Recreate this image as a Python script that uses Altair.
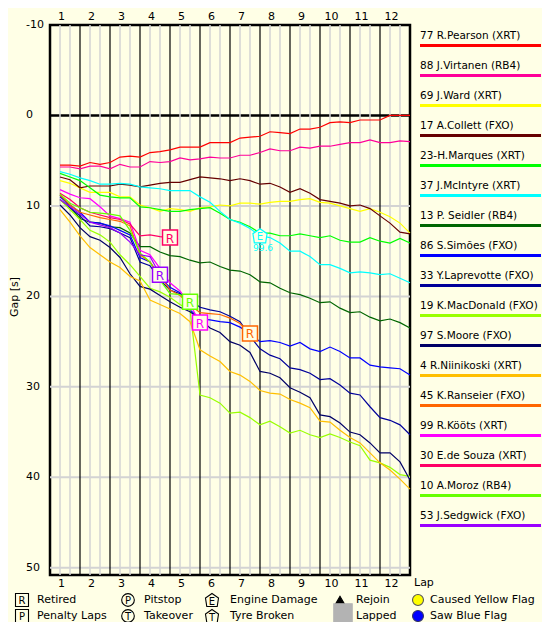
import altair as alt
import pandas as pd

BG = "#FFFFE6"
FONT = "DejaVu Sans"

drivers = ["77 R.Pearson (XRT)", "88 J.Virtanen (RB4)", "69 J.Ward (XRT)", "17 A.Collett (FXO)",
           "23-H.Marques (XRT)", "37 J.McIntyre (XRT)", "13 P. Seidler (RB4)", "86 S.Simões (FXO)",
           "33 Y.Laprevotte (FXO)", "19 K.MacDonald (FXO)", "97 S.Moore (FXO)", "4 R.Niinikoski (XRT)",
           "45 K.Ranseier (FXO)", "99 R.Kööts (XRT)", "30 E.de Souza (XRT)", "10 A.Moroz (RB4)",
           "53 J.Sedgwick (FXO)"]
colors = ["#FF0000", "#FF0099", "#FFFF00", "#660000", "#00FF00", "#00FFFF", "#006600", "#0000FF",
          "#000099", "#99FF00", "#000066", "#FFBF00", "#FF6600", "#FF00FF", "#FF0066", "#66FF00",
          "#9900FF"]

# gap to leader [s], one value per sector (3 sectors per lap), starting at sector 1
pearson = [5.5, 5.5, 5.6, 5.2, 5.4, 5.2, 4.6, 4.5, 4.6, 4.1, 4.0, 3.8, 3.5, 3.5, 3.5, 3.0, 3.0, 3.0,
           2.5, 2.4, 2.3, 1.8, 1.9, 2.0, 1.5, 1.5, 1.3, 0.8, 0.7, 0.8, 0.5, 0.5, 0.5, 0.0, 0.0, 0.0]
virtanen = [5.7, 5.7, 5.9, 5.6, 5.6, 5.9, 5.4, 5.7, 5.7, 5.1, 5.2, 5.1, 4.7, 4.9, 4.8, 4.6, 4.7, 4.7,
            4.4, 4.4, 4.1, 3.7, 3.9, 3.9, 3.5, 3.6, 3.4, 3.4, 3.2, 3.0, 3.0, 2.7, 3.0, 3.0, 2.8, 2.9]
ward = [7.2, 7.5, 8.0, 8.5, 8.5, 8.5, 9.0, 9.0, 9.9, 10.2, 10.6, 10.3, 10.4, 10.6, 10.2, 10.1, 9.9, 10.0,
        9.7, 9.7, 9.8, 9.6, 9.5, 9.5, 9.3, 9.2, 9.6, 9.7, 10.0, 10.3, 10.6, 10.3, 10.7, 11.2, 11.9, 13.0]
collett = [6.8, 7.1, 8.0, 7.8, 7.8, 7.8, 7.6, 7.7, 7.9, 7.7, 7.5, 7.4, 7.4, 7.1, 6.8, 6.9, 7.0, 7.2,
           7.0, 7.2, 7.6, 7.5, 7.9, 8.5, 8.1, 8.6, 9.3, 9.5, 9.7, 10.0, 9.9, 10.3, 11.1, 11.9, 12.9, 13.1]
marques = [6.4, 6.8, 7.2, 8.0, 8.8, 9.0, 9.1, 9.1, 10.1, 10.2, 10.4, 10.6, 10.6, 10.4, 10.3, 10.2, 10.8, 11.5,
           11.8, 12.3, 13.0, 13.0, 13.3, 13.3, 13.1, 13.3, 13.5, 13.3, 13.8, 14.0, 14.0, 13.5, 13.9, 14.1, 13.6, 14.1]
mcintyre = [6.2, 6.5, 6.9, 7.2, 7.6, 7.6, 7.5, 7.6, 7.9, 8.0, 8.1, 8.3, 8.3, 8.3, 9.0, 9.6, 10.6, 11.5,
            11.9, 12.5, 13.3, 13.5, 14.1, 15.0, 15.0, 15.6, 16.5, 16.5, 16.9, 17.4, 17.3, 17.4, 17.6, 17.5, 18.0, 18.5]
seidler = [8.8, 10.1, 11.4, 11.8, 11.9, 12.3, 12.4, 13.0, 14.5, 14.5, 15.1, 15.5, 15.6, 16.0, 16.3, 16.2, 16.7, 17.1,
           17.2, 17.6, 18.4, 18.5, 19.1, 19.6, 19.8, 20.2, 20.7, 20.6, 21.3, 21.8, 21.7, 22.3, 22.7, 22.5, 22.9, 23.5]
simoes = [9.0, 9.9, 10.7, 11.8, 11.9, 12.2, 12.7, 13.2, 15.7, 16.2, 17.9, 19.0, 19.6, 21.5, 22.5, 22.6, 22.8, 22.9,
          23.4, 24.1, 25.0, 24.9, 25.1, 25.5, 25.1, 25.8, 26.1, 25.6, 26.1, 26.8, 26.8, 27.6, 27.8, 27.9, 28.0, 28.7]
laprevotte = [9.3, 10.2, 11.1, 12.2, 12.3, 12.5, 13.0, 13.5, 16.2, 16.6, 18.2, 19.3, 19.7, 20.4, 21.2, 21.5, 21.7, 22.2,
              22.8, 24.4, 25.8, 26.5, 26.9, 27.9, 28.1, 28.5, 29.2, 29.1, 29.8, 30.7, 30.9, 32.2, 33.4, 33.7, 34.2, 35.3]
macdonald = [9.3, 10.4, 11.5, 12.7, 13.2, 14.0, 15.4, 16.5, 17.8, 19.1, 19.5, 20.1, 20.9, 21.5, 30.9, 31.2, 31.8, 32.9,
             32.8, 33.4, 34.2, 33.8, 34.4, 35.1, 34.8, 35.3, 35.6, 35.2, 35.6, 36.1, 36.5, 38.1, 38.4, 38.9, 39.7, 39.9]
moore = [9.9, 11.0, 12.4, 13.4, 13.8, 14.6, 15.7, 17.5, 18.9, 19.2, 19.9, 20.6, 21.2, 21.7, 22.5, 23.5, 24.0, 25.0,
         25.4, 26.2, 28.3, 28.5, 29.0, 30.1, 30.6, 31.2, 33.1, 33.3, 34.0, 35.0, 35.3, 36.2, 37.3, 37.3, 38.3, 40.3]
niinikoski = [10.4, 11.8, 13.3, 14.6, 15.4, 16.2, 16.8, 17.8, 18.3, 20.4, 20.9, 21.4, 21.9, 22.8, 25.9, 26.6, 27.2, 28.3,
              28.7, 29.4, 30.4, 30.7, 30.8, 31.4, 31.8, 32.3, 33.8, 33.9, 34.8, 35.6, 36.2, 37.3, 38.4, 39.2, 40.2, 41.3]
ranseier = [8.8, 9.9, 10.7, 11.0, 11.3, 11.5, 11.7, 12.2, 15.4, 16.2, 17.7, 19.3, 19.9, 20.9, 21.8, 21.9, 22.0, 22.4,
            23.0, 24.1]
kootz = [8.2, 8.7, 9.1, 9.2, 10.1, 11.1, 11.4, 11.8, 14.9, 15.4, 16.9, 18.5, 19.4, 20.9, 22.9]
desouza = [8.6, 9.3, 10.2, 10.7, 11.0, 11.3, 11.5, 12.0, 13.3, 13.2, 13.4, 13.5]
moroz = [8.7, 9.7, 10.2, 10.7, 10.8, 10.9, 11.1, 12.7, 15.2, 16.2, 18.2, 19.7, 19.8, 20.6]
sedgwick = [9.3, 10.1, 10.9, 11.8, 12.1, 12.4, 13.0, 14.0, 15.4, 15.6, 17.6]

series = [pearson, virtanen, ward, collett, marques, mcintyre, seidler, simoes, laprevotte,
          macdonald, moore, niinikoski, ranseier, kootz, desouza, moroz, sedgwick]

laps = list(range(1, 13))
sectors_per_lap = 3
total_sectors = 36
gap_ticks = [-10, 0, 10, 20, 30, 40, 50]

# events: (driver, sector, symbol letter, note)
events = [("37 J.McIntyre (XRT)", 21, "E", "99.6")]

# ---------- tables ----------
rows = []
for name, col, vals in zip(drivers, colors, series):
    for i, v in enumerate(vals):
        rows.append({"driver": name, "color": col, "s": i + 1, "gap": v})
df = pd.DataFrame(rows)

ret = []
for name, col, vals in zip(drivers, colors, series):
    if len(vals) < total_sectors:
        ret.append({"driver": name, "color": col, "s": len(vals), "gap": vals[-1], "t": "R"})
ret_df = pd.DataFrame(ret)

ev = []
for name, s, letter, note in events:
    i = drivers.index(name)
    ev.append({"color": colors[i], "s": s, "gap": series[i][s - 1], "t": letter, "note": note})
ev_df = pd.DataFrame(ev)

xs = alt.Scale(domain=[0, total_sectors], nice=False, zero=False)
ys = alt.Scale(domain=[-10, 50.8], reverse=True, nice=False, zero=False)

sect = pd.DataFrame({"s": list(range(1, total_sectors))})
gray_s = sect[sect.s % sectors_per_lap != 0]
black_s = sect[sect.s % sectors_per_lap == 0]

hgrid = alt.Chart(pd.DataFrame({"g": gap_ticks[2:]})).mark_rule(color="#D3D3D3", strokeWidth=2).encode(
    y=alt.Y("g:Q", scale=ys, axis=None))
zero = alt.Chart(pd.DataFrame({"g": [0]})).mark_rule(color="black", strokeWidth=2.5).encode(
    y=alt.Y("g:Q", scale=ys, axis=None))
vgray = alt.Chart(gray_s).mark_rule(color="#D3D3D3", strokeWidth=1.5).encode(
    x=alt.X("s:Q", scale=xs, axis=None))
vblack = alt.Chart(black_s).mark_rule(color="black", strokeWidth=1.2).encode(
    x=alt.X("s:Q", scale=xs, axis=None))

lines = alt.Chart(df).mark_line(strokeWidth=1.2).encode(
    x=alt.X("s:Q", scale=xs, axis=None),
    y=alt.Y("gap:Q", scale=ys, axis=None),
    color=alt.Color("driver:N", scale=alt.Scale(domain=drivers, range=colors), legend=None),
    detail="driver:N",
)

ret_box = alt.Chart(ret_df).mark_point(shape="square", size=225, filled=True, fill=BG, opacity=1,
                                       strokeWidth=1.5).encode(
    x=alt.X("s:Q", scale=xs), y=alt.Y("gap:Q", scale=ys), stroke=alt.Stroke("color:N", scale=None))
ret_txt = alt.Chart(ret_df).mark_text(font=FONT, fontSize=12, baseline="middle", align="center", dy=1).encode(
    x=alt.X("s:Q", scale=xs), y=alt.Y("gap:Q", scale=ys), text="t:N", color=alt.Color("color:N", scale=None))

PENT = "M0,-1L1,-0.3L0.8,1L-0.8,1L-1,-0.3Z"
ev_sym = alt.Chart(ev_df).mark_point(shape=PENT, size=200, filled=True, fill=BG, opacity=1,
                                     strokeWidth=1.2).encode(
    x=alt.X("s:Q", scale=xs), y=alt.Y("gap:Q", scale=ys), stroke=alt.Stroke("color:N", scale=None))
ev_txt = alt.Chart(ev_df).mark_text(font=FONT, fontSize=10, baseline="middle", dy=1).encode(
    x=alt.X("s:Q", scale=xs), y=alt.Y("gap:Q", scale=ys), text="t:N", color=alt.Color("color:N", scale=None))
ev_note = alt.Chart(ev_df).mark_text(font=FONT, fontSize=9, baseline="middle", dy=12, dx=3).encode(
    x=alt.X("s:Q", scale=xs), y=alt.Y("gap:Q", scale=ys), text="note:N", color=alt.Color("color:N", scale=None))

# axis texts
lap_df = pd.DataFrame({"s": [sectors_per_lap * n - 2 for n in laps], "label": [str(n) for n in laps]})
top_lbl = alt.Chart(lap_df).mark_text(font=FONT, fontSize=11, baseline="middle", dx=1.5).encode(
    x=alt.X("s:Q", scale=xs), y=alt.value(-8), text="label:N")
bot_lbl = alt.Chart(lap_df).mark_text(font=FONT, fontSize=11, baseline="middle", dx=1.5).encode(
    x=alt.X("s:Q", scale=xs), y=alt.value(559), text="label:N")
lap_title = alt.Chart(pd.DataFrame({"t": ["Lap"]})).mark_text(font=FONT, fontSize=11, align="left",
                                                               baseline="middle").encode(
    x=alt.value(364), y=alt.value(558), text="t:N")
ytick_df = pd.DataFrame({"v": gap_ticks, "label": [str(v) for v in gap_ticks]})
y_lbl = alt.Chart(ytick_df).mark_text(font=FONT, fontSize=11, align="left", baseline="middle").encode(
    x=alt.value(-24), y=alt.Y("v:Q", scale=ys), text="label:N")
y_title = alt.Chart(pd.DataFrame({"t": ["Gap [s]"]})).mark_text(font=FONT, fontSize=11, angle=270,
                                                                 baseline="middle").encode(
    x=alt.value(-35), y=alt.value(272), text="t:N")

# right-hand driver legend
leg = pd.DataFrame({"name": drivers, "color": colors})
leg["ty"] = [11 + 30 * i for i in range(len(drivers))]
leg["ly"] = [20.5 + 30 * i for i in range(len(drivers))]
leg_txt = alt.Chart(leg).mark_text(font=FONT, fontSize=10.5, align="left", baseline="middle").encode(
    x=alt.value(370), y=alt.Y("ty:Q", scale=None), text="name:N")
leg_line = alt.Chart(leg).mark_rule(strokeWidth=3).encode(
    x=alt.value(370), x2=alt.value(491), y=alt.Y("ly:Q", scale=None), color=alt.Color("color:N", scale=None))

# bottom symbol legend
r1, r2 = 575, 591
sym = pd.DataFrame([
    {"px": -28, "py": r1, "shape": "square", "size": 169, "fill": BG, "stroke": "black"},
    {"px": 78, "py": r1, "shape": "circle", "size": 160, "fill": BG, "stroke": "black"},
    {"px": 162, "py": r1, "shape": PENT, "size": 170, "fill": BG, "stroke": "black"},
    {"px": 290, "py": r1, "shape": "triangle-up", "size": 75, "fill": "black", "stroke": "black"},
    {"px": 368, "py": r1, "shape": "circle", "size": 120, "fill": "#FFFF00", "stroke": "#555555"},
    {"px": -28, "py": r2, "shape": "square", "size": 169, "fill": BG, "stroke": "black"},
    {"px": 78, "py": r2, "shape": "circle", "size": 160, "fill": BG, "stroke": "black"},
    {"px": 162, "py": r2, "shape": PENT, "size": 170, "fill": BG, "stroke": "black"},
    {"px": 293, "py": 588, "shape": "square", "size": 340, "fill": "#B3B3B3", "stroke": "#B3B3B3"},
    {"px": 368, "py": r2, "shape": "circle", "size": 120, "fill": "#0000FF", "stroke": "#333366"},
])
sym_ch = alt.Chart(sym).mark_point(filled=True, opacity=1, strokeWidth=1.1).encode(
    x=alt.X("px:Q", scale=None), y=alt.Y("py:Q", scale=None),
    shape=alt.Shape("shape:N", scale=None), size=alt.Size("size:Q", scale=None),
    fill=alt.Fill("fill:N", scale=None), stroke=alt.Stroke("stroke:N", scale=None))
sym_letters = pd.DataFrame([
    {"px": -28, "py": r1 + 1, "t": "R"}, {"px": 78, "py": r1 + 1, "t": "P"}, {"px": 162, "py": r1 + 1.5, "t": "E"},
    {"px": -28, "py": r2 + 1, "t": "P"}, {"px": 78, "py": r2 + 1, "t": "T"}, {"px": 162, "py": r2 + 1.5, "t": "T"},
])
let_ch = alt.Chart(sym_letters).mark_text(font=FONT, fontSize=10, baseline="middle").encode(
    x=alt.X("px:Q", scale=None), y=alt.Y("py:Q", scale=None), text="t:N")
sym_labels = pd.DataFrame([
    {"px": -13, "py": r1, "t": "Retired"}, {"px": 94, "py": r1, "t": "Pitstop"},
    {"px": 180, "py": r1, "t": "Engine Damage"}, {"px": 306, "py": r1, "t": "Rejoin"},
    {"px": 380, "py": r1, "t": "Caused Yellow Flag"},
    {"px": -13, "py": r2, "t": "Penalty Laps"}, {"px": 94, "py": r2, "t": "Takeover"},
    {"px": 180, "py": r2, "t": "Tyre Broken"}, {"px": 306, "py": r2, "t": "Lapped"},
    {"px": 380, "py": r2, "t": "Saw Blue Flag"},
])
lab_ch = alt.Chart(sym_labels).mark_text(font=FONT, fontSize=11, align="left", baseline="middle").encode(
    x=alt.X("px:Q", scale=None), y=alt.Y("py:Q", scale=None), text="t:N")

chart = alt.layer(
    hgrid, zero, vgray, vblack, lines, ret_box, ret_txt, ev_sym, ev_txt, ev_note,
    top_lbl, bot_lbl, lap_title, y_lbl, y_title, leg_txt, leg_line, sym_ch, let_ch, lab_ch,
).properties(
    width=360, height=550,
    padding={"left": 42, "top": 17, "right": 132, "bottom": 47},
    autosize=alt.AutoSizeParams(type="none"),
    background=BG,
).configure_view(stroke="black", strokeWidth=2.5, fill=BG)

chart.save("out.html", embed_options={"renderer": "svg", "actions": False})
